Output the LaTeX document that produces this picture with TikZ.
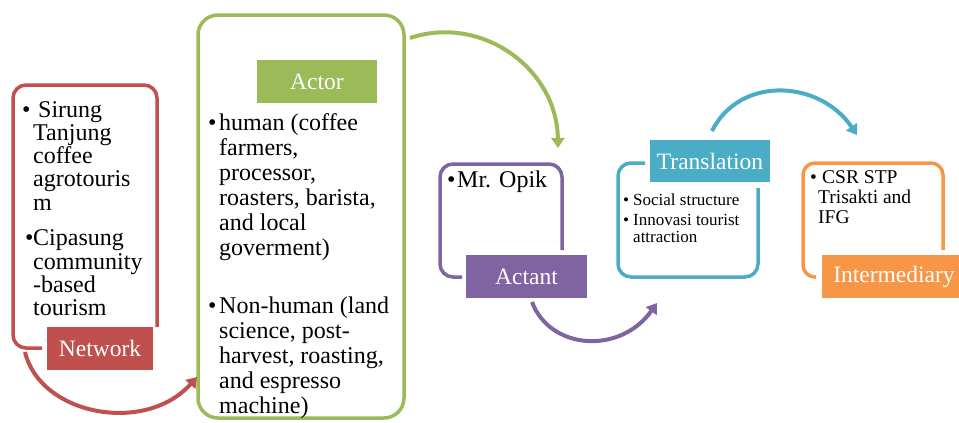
\documentclass[tikz,border=0pt]{standalone}
\usepackage{fontspec}
\setmainfont{Liberation Serif}
\usetikzlibrary{arrows.meta}

\definecolor{netred}{HTML}{C0504D}
\definecolor{actgreen}{HTML}{9BBB59}
\definecolor{antpurple}{HTML}{8064A2}
\definecolor{trblue}{HTML}{4BACC6}
\definecolor{intorange}{HTML}{F79646}

% bullet set in a box of fixed width, and the matching hanging indent
\newcommand{\bul}[1]{\makebox[#1][l]{•}}
\newcommand{\hang}[1]{\hspace*{#1}}

\begin{document}
\begin{tikzpicture}[x=1pt,y=-1pt,
  frame/.style={line width=3.5pt, rounded corners=13pt},
  tag/.style={text=white, font=\fontsize{23.5}{26}\selectfont, inner sep=0pt, minimum height=43pt},
  flow/.style={line width=4pt, -{Triangle[width=13pt,length=10pt]}},
  body/.style={anchor=base west, inner sep=0pt}]
\useasboundingbox (0,0) rectangle (959,423);

% ---------- Network ----------
\draw[frame, netred] (42,348) -- (13,348) -- (13,85) -- (157,85) -- (157,327);
\node[tag, fill=netred, minimum width=106pt] (network) at (100,348.5) {Network};
\node[body] (nettext) at (22,117) {\parbox[t]{140pt}{\fontsize{24}{23.3}\selectfont\raggedright
  \bul{11pt}\hspace*{5pt}Sirung\\
  \hang{11pt}Tanjung\\
  \hang{11pt}coffee\\
  \hang{11pt}agrotouris\\
  \hang{11pt}m\\[12.4pt]
  \hspace*{3pt}\bul{8pt}Cipasung\\
  \hang{11pt}community\\
  \hang{11pt}-based\\
  \hang{11pt}tourism}};

% ---------- Actor ----------
\node[draw=actgreen, line width=3.5pt, rounded corners=20pt,
      minimum width=206pt, minimum height=403pt] (actorbox) at (301,216.5) {};
\node[tag, fill=actgreen, minimum width=120pt] (actor) at (317,81.5) {Actor};
\node[body] (actortext) at (208,130) {\parbox[t]{200pt}{\fontsize{24}{25}\selectfont\raggedright
  \bul{11pt}human (coffee\\
  \hang{11pt}farmers,\\
  \hang{11pt}processor,\\
  \hang{11pt}roasters, barista,\\
  \hang{11pt}and local\\
  \hang{11pt}goverment)\\[33pt]
  \bul{11pt}Non-human (land\\
  \hang{11pt}science, post-\\
  \hang{11pt}harvest, roasting,\\
  \hang{11pt}and espresso\\
  \hang{11pt}machine)}};

% ---------- Actant ----------
\draw[frame, antpurple] (462,277) -- (440,277) -- (440,164) -- (562,164) -- (562,250);
\node[tag, fill=antpurple, minimum width=121pt] (actant) at (526.5,276.5) {Actant};
\node[body] (actanttext) at (447,187) {\fontsize{24}{25}\selectfont\bul{10pt}Mr. Opik};

% ---------- Translation ----------
\draw[frame, trblue] (645,163) -- (618,163) -- (618,277) -- (758,277) -- (758,188);
\node[tag, fill=trblue, minimum width=120pt, minimum height=42pt] (translation) at (710,161) {Translation};
\node[body] (trtext) at (623,205.5) {\parbox[t]{140pt}{\fontsize{17}{17}\selectfont\raggedright
  \bul{10pt}Social structure\\[3pt]
  \bul{10pt}Innovasi tourist\\
  \hang{10pt}attraction}};

% ---------- Intermediary ----------
\draw[frame, rounded corners=12pt, intorange] (816,277) -- (803,277) -- (803,163) -- (943,163) -- (943,250);
\node[tag, fill=intorange, minimum width=144pt] (intermediary) at (894,276.5) {Intermediary};
\node[body] (inttext) at (810,183) {\parbox[t]{130pt}{\fontsize{19.5}{20}\selectfont\raggedright
  \bul{8pt}\hspace*{4pt}CSR STP\\
  \hang{8pt}Trisakti and\\
  \hang{8pt}IFG}};

% ---------- connectors ----------
\coordinate (netout) at (25,352);
\coordinate (actorin) at (197,377);
\coordinate (actorout) at (410,38);
\coordinate (actantin) at (558,148);
\coordinate (actantout) at (532,302);
\coordinate (transin) at (657,303);
\coordinate (transout) at (712,131);
\coordinate (interin) at (857,135);

\draw[flow, netred] (netout) .. controls (40,415) and (145,435) .. (actorin);
\draw[flow, actgreen] (actorout) .. controls (482,14) and (557,69) .. (actantin);
\draw[flow, antpurple] (actantout) .. controls (550,350) and (620,355) .. (transin);
\draw[flow, trblue] (transout) .. controls (740,75) and (820,80) .. (interin);
\end{tikzpicture}
\end{document}
